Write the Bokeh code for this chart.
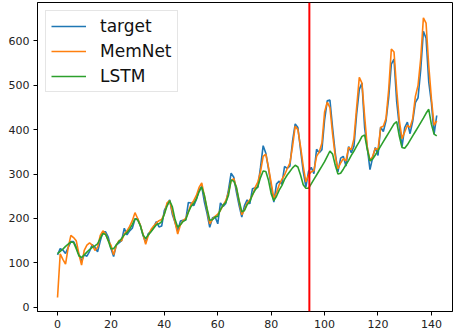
from bokeh.plotting import figure
from bokeh.models import Range1d, FixedTicker, Span, Legend, LegendItem
from bokeh.embed import file_html
from bokeh.resources import INLINE

# ---- data ----
target = [118,132,129,121,135,148,148,136,119,104,118,
          115,126,141,135,125,149,170,170,158,133,114,140,
          145,150,178,163,172,178,199,199,184,162,146,166,
          171,180,193,181,183,218,230,242,209,191,172,194,
          196,196,236,235,229,243,264,272,237,211,180,201,
          204,188,235,227,234,264,302,293,259,229,203,229,
          242,233,267,269,270,315,364,347,312,274,237,278,
          284,277,317,313,318,374,413,405,355,306,271,306,
          315,301,356,348,355,422,465,467,404,347,305,336,
          340,318,362,348,363,435,491,505,404,359,310,337,
          360,342,406,396,420,472,548,559,463,407,362,405,
          417,391,419,461,472,535,622,606,508,461,390,432]

memnet = [22,120,108,97,135,162,157,150,120,95,128,
          140,145,140,128,135,162,172,165,150,140,118,140,
          150,150,165,172,182,195,213,200,185,165,142,162,
          175,183,190,195,198,210,235,240,215,192,165,185,
          195,200,215,232,240,252,270,280,250,220,188,198,
          205,210,218,230,240,258,285,290,268,238,208,220,
          235,242,252,270,282,305,340,345,315,280,245,258,
          276,288,298,312,325,362,408,400,362,318,282,298,
          305,308,340,350,370,440,462,450,390,340,312,325,
          335,330,360,355,380,450,518,505,430,360,330,340,
          358,355,405,408,425,490,582,575,490,420,380,395,
          410,405,425,475,500,560,652,640,545,470,410,420]

lstm = [121,126,131,137,142,147,146,132,116,112,118,
        124,130,135,138,143,155,166,164,150,132,132,140,
        148,155,163,168,176,186,199,197,184,163,155,163,
        170,178,186,188,193,210,228,240,226,198,180,186,
        193,197,214,227,234,244,260,271,252,222,196,197,
        203,205,220,230,236,252,287,284,270,240,215,218,
        231,238,254,264,272,292,307,306,286,256,240,250,
        264,274,288,298,306,314,320,316,298,276,268,268,
        278,288,298,308,318,328,340,352,345,320,300,302,
        311,321,331,342,352,363,373,385,388,355,330,334,
        343,353,363,373,383,393,403,413,418,385,360,358,
        366,376,386,396,406,416,426,437,446,412,390,386]

split_at = 94.3
x_ticks = [0, 20, 40, 60, 80, 100, 120, 140]
y_ticks = [0, 100, 200, 300, 400, 500, 600]
labels = ["target", "MemNet", "LSTM"]
colors = ["#1f77b4", "#ff7f0e", "#2ca02c"]

x = list(range(len(target)))

p = figure(width=453, height=334, output_backend="svg", toolbar_location=None,
           x_range=Range1d(-7.5, 147.9), y_range=Range1d(-9.65, 686.65),
           min_border_left=37, min_border_right=1, min_border_top=2, min_border_bottom=23)
p.frame_width = 415
p.frame_height = 309

p.xgrid.visible = False
p.ygrid.visible = False
p.outline_line_color = "black"
p.outline_line_width = 1
p.background_fill_color = "white"
p.border_fill_color = "white"

for ax in (p.xaxis, p.yaxis):
    ax.axis_line_color = "black"
    ax.axis_line_width = 1
    ax.major_tick_line_color = "black"
    ax.major_tick_line_width = 1
    ax.major_tick_in = 0
    ax.major_tick_out = 4
    ax.minor_tick_line_color = None
    ax.major_label_text_font = "DejaVu Sans"
    ax.major_label_text_font_size = "11px"
    ax.major_label_text_color = "#222222"
    ax.major_label_standoff = 4
p.xaxis.ticker = FixedTicker(ticks=x_ticks)
p.yaxis.ticker = FixedTicker(ticks=y_ticks)

renderers = []
for series, c in zip([target, memnet, lstm], colors):
    r = p.line(x, series, line_color=c, line_width=1.6)
    renderers.append(r)

p.add_layout(Span(location=split_at, dimension="height", line_color="red", line_width=2))

legend = Legend(items=[LegendItem(label=l, renderers=[r]) for l, r in zip(labels, renderers)],
                location="top_left")
legend.margin = 8
legend.padding = 5
legend.spacing = 5
legend.glyph_width = 35
legend.glyph_height = 20
legend.label_height = 20
legend.label_standoff = 14
legend.label_text_font = "DejaVu Sans"
legend.label_text_font_size = "17px"
legend.label_text_color = "#111111"
legend.border_line_color = "#cccccc"
legend.border_line_width = 1
legend.background_fill_alpha = 0.8
p.add_layout(legend)

html = file_html(p, INLINE)
html = html.replace("</head>", "<style>html,body{margin:0;padding:0;overflow:hidden;}</style></head>", 1)
open("out.html", "w").write(html)
